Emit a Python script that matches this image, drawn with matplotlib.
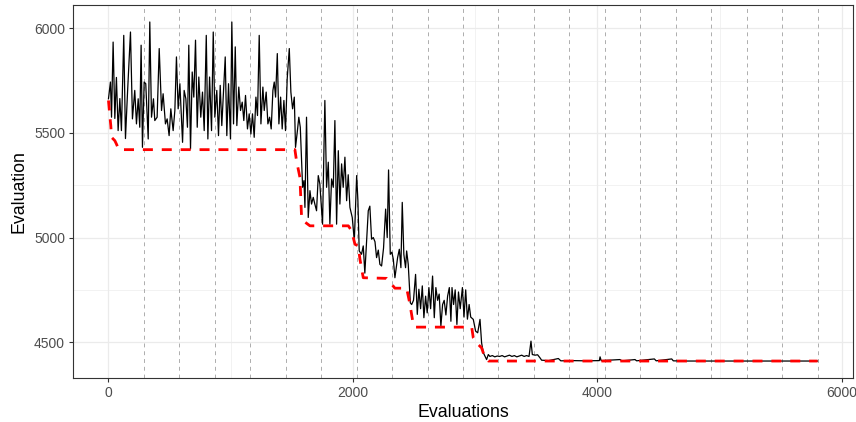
import matplotlib.pyplot as plt
from matplotlib.ticker import MultipleLocator

plt.rcParams['font.family'] = ['Liberation Sans', 'DejaVu Sans']

# Evaluation trace (black line)
eval_x = [0, 16, 25, 38, 52, 65, 79, 93, 106, 125, 139, 156, 180, 196, 215, 229, 243, 256, 267, 278,
          292, 305, 325, 338, 352, 368, 379, 398, 415, 434, 447, 466, 480, 496, 510, 529, 543, 556, 570, 584,
          606, 619, 633, 646, 657, 671, 685, 698, 712, 726, 739, 755, 769, 783, 800, 813, 827, 843, 857, 870,
          886, 900, 914, 927, 941, 955, 968, 982, 998, 1009, 1023, 1037, 1050, 1066, 1080, 1094, 1107, 1121, 1137, 1151,
          1165, 1178, 1192, 1206, 1219, 1233, 1247, 1263, 1274, 1290, 1304, 1318, 1331, 1345, 1356, 1367, 1381, 1394, 1408, 1421,
          1435, 1448, 1462, 1479, 1492, 1506, 1520, 1530, 1544, 1557, 1569,
          1588, 1599, 1607, 1620, 1634, 1648, 1661, 1675, 1688, 1702, 1716, 1729, 1751, 1770, 1784, 1798, 1811, 1825, 1839, 1852,
          1866, 1880, 1893, 1907, 1920, 1934, 1948, 1961, 1975, 1994, 2011, 2030, 2040, 2051, 2070, 2084, 2097, 2111, 2125, 2138,
          2152, 2166, 2180, 2193, 2207, 2220, 2234, 2250, 2267, 2280, 2291, 2305, 2318, 2330, 2343, 2355, 2365, 2379, 2392, 2403,
          2416, 2430, 2439, 2452, 2469, 2480, 2495, 2512, 2526, 2539, 2553, 2567, 2580, 2594, 2607, 2621, 2635, 2651, 2665, 2678,
          2692, 2705, 2719, 2733, 2746, 2760, 2774, 2788, 2801, 2810, 2823, 2836, 2850, 2863, 2877, 2895, 2908, 2922, 2936, 2950,
          2963, 2984, 3003, 3020, 3039, 3052, 3066, 3093, 3107,
          3120, 3140, 3160, 3180, 3200, 3220, 3240, 3260, 3280, 3300, 3320, 3340, 3360, 3380, 3400, 3420, 3440, 3456, 3467, 3490,
          3510, 3530, 3543, 3600, 3680, 3700, 3800, 3900, 4015, 4021, 4030, 4184, 4200, 4307, 4320, 4465, 4480, 4607, 4620, 4700,
          5000, 5300, 5600, 5800]
eval_y = [5663, 5743, 5575, 5934, 5569, 5765, 5511, 5664, 5511, 5966, 5473, 5695, 5982, 5567, 5703, 5543, 5663, 5527, 5919, 5431,
          5743, 5735, 5471, 6030, 5575, 5663, 5559, 5575, 5903, 5607, 5687, 5543, 5567, 5487, 5615, 5511, 5607, 5863, 5615, 5735,
          5455, 5703, 5663, 5527, 5919, 5423, 5791, 5671, 5943, 5527, 5767, 5575, 5695, 5511, 5966, 5471, 5767, 5511, 5982, 5575,
          5703, 5487, 5727, 5535, 5695, 5863, 5487, 5735, 5471, 6030, 5543, 5911, 5535, 5719, 5607, 5647, 5559, 5679, 5519, 5591,
          5495, 5591, 5479, 5671, 5583, 5966, 5543, 5719, 5607, 5695, 5543, 5575, 5519, 5703, 5743, 5671, 5879, 5543, 5671, 5519,
          5655, 5511, 5759, 5903, 5695, 5615, 5671, 5431, 5503, 5575, 5527,
          5240, 5272, 5144, 5575, 5096, 5224, 5160, 5192, 5160, 5128, 5296, 5256, 5064, 5655, 5240, 5360, 5064, 5280, 5240, 5559,
          5064, 5415, 5160, 5352, 5240, 5384, 5176, 5300, 5144, 5096, 4984, 5296, 5180, 4936, 4920, 4960, 4830, 4984, 5128, 5150,
          4992, 5000, 4980, 4904, 4940, 4872, 4864, 4950, 5136, 5000, 5323, 4920, 4930, 4896, 4808, 4860, 4904, 4944, 4856, 5168,
          4920, 4856, 4936, 4872, 4688, 4680, 4700, 4824, 4633, 4753, 4660, 4769, 4617, 4720, 4640, 4761, 4660, 4816, 4617, 4761,
          4700, 4730, 4577, 4680, 4700, 4630, 4720, 4761, 4600, 4761, 4680, 4750, 4585, 4740, 4660, 4761, 4620, 4750, 4610, 4680,
          4620, 4609, 4553, 4545, 4609, 4497, 4450, 4417, 4441,
          4432, 4436, 4430, 4434, 4432, 4436, 4430, 4434, 4438, 4432, 4436, 4430, 4434, 4438, 4432, 4436, 4432, 4505, 4441, 4438,
          4440, 4425, 4414, 4412, 4422, 4411, 4412, 4411, 4412, 4430, 4412, 4417, 4411, 4417, 4411, 4420, 4411, 4420, 4411, 4410,
          4410, 4410, 4410, 4410]

# Best evaluation so far (red dashed line)
best_x = [0, 11, 19, 25, 52, 65, 85, 1525, 1538, 1566, 1579, 1593, 1648, 1962, 1989, 2016, 2043, 2057, 2084, 2275,
          2316, 2343, 2439, 2466, 2493, 2507, 2971, 2984, 3011, 3052, 3080, 3107, 5800]
best_y = [5655, 5583, 5535, 5479, 5463, 5447, 5420, 5420, 5367, 5288, 5104, 5080, 5056, 5056, 5032, 4968, 4960, 4896, 4808, 4805,
          4777, 4758, 4758, 4681, 4585, 4572, 4572, 4521, 4497, 4473, 4425, 4410, 4410]

# Vertical dashed markers
marks = [290, 580, 870, 1160, 1450, 1740, 2030, 2320, 2610, 2900,
         3190, 3480, 3770, 4060, 4350, 4640, 4930, 5220, 5510, 5800]

fig = plt.figure(figsize=(8.56, 4.22), dpi=100)
ax = fig.add_axes([0.0853, 0.1043, 0.9112, 0.8838])

# Grid (theme_bw look)
ax.xaxis.set_major_locator(MultipleLocator(2000))
ax.xaxis.set_minor_locator(MultipleLocator(1000))
ax.yaxis.set_major_locator(MultipleLocator(500))
ax.yaxis.set_minor_locator(MultipleLocator(250))
ax.grid(which='major', color='#EBEBEB', linewidth=0.9)
ax.grid(which='minor', color='#EBEBEB', linewidth=0.45)
ax.set_axisbelow(True)

for m in marks:
    ax.axvline(m, color='#ADADAD', linewidth=0.7, linestyle=(0, (4, 4)), zorder=1)

ax.plot(eval_x, eval_y, color='black', linewidth=0.9, zorder=2)
ax.plot(best_x, best_y, color='#FF0000', linewidth=2.0, dashes=(3.6, 3.2), zorder=3)

# ggplot-style 5% expansion
xr = max(eval_x) - min(eval_x)
yr = max(eval_y) - min(eval_y)
ax.set_xlim(min(eval_x) - 0.05 * xr, max(eval_x) + 0.05 * xr)
ax.set_ylim(min(eval_y) - 0.05 * yr, max(eval_y) + 0.05 * yr)

for s in ax.spines.values():
    s.set_color('#333333')
    s.set_linewidth(0.8)
ax.tick_params(which='major', length=3.2, width=0.8, color='#333333', labelcolor='#4D4D4D',
               labelsize=10, pad=2.5)
ax.tick_params(which='minor', length=0)

ax.set_xlabel('Evaluations', fontsize=12.8, labelpad=3)
ax.set_ylabel('Evaluation', fontsize=12.8, labelpad=5)

fig.savefig('out.png', dpi=100)
